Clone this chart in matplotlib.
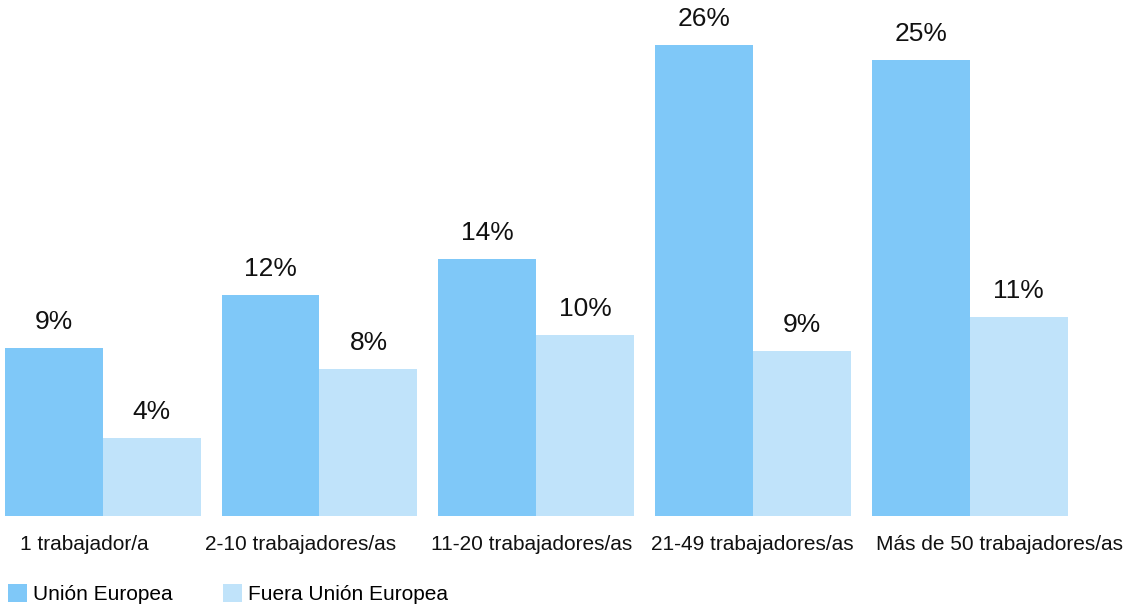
import matplotlib
matplotlib.use("Agg")
import matplotlib.pyplot as plt
import matplotlib.transforms as mtransforms
import numpy as np

plt.rcParams['font.family'] = ['Liberation Sans', 'DejaVu Sans']

# datos
categorias = ['1 trabajador/a', '2-10 trabajadores/as', '11-20 trabajadores/as',
              '21-49 trabajadores/as', 'Más de 50 trabajadores/as']
union_europea = [9.3, 12.2, 14.2, 26.0, 25.2]
fuera_ue = [4.3, 8.1, 10.0, 9.1, 11.0]
etiquetas_ue = ['9%', '12%', '14%', '26%', '25%']
etiquetas_fuera = ['4%', '8%', '10%', '9%', '11%']

color_ue = '#7fc8f8'
color_fuera = '#c0e3fa'

W, H = 1127, 608
fig = plt.figure(figsize=(W / 100, H / 100), dpi=100)
ax = fig.add_axes([0, 92 / H, 1, 516 / H])

x = np.arange(len(categorias))
ancho = 0.452
b1 = ax.bar(x - ancho / 2, union_europea, ancho, color=color_ue, label='Unión Europea')
b2 = ax.bar(x + ancho / 2, fuera_ue, ancho, color=color_fuera, label='Fuera Unión Europea')

for barras, etiquetas in [(b1, etiquetas_ue), (b2, etiquetas_fuera)]:
    for rect, txt in zip(barras, etiquetas):
        ax.annotate(txt, (rect.get_x() + rect.get_width() / 2, rect.get_height()),
                    xytext=(0, 10), textcoords='offset points',
                    ha='center', va='bottom', fontsize=19, color='#111111')

ax.set_xlim(-0.4744, 4.7264)
ax.set_ylim(0, 28.5)
ax.set_xticks(x)
ax.set_xticklabels(categorias, fontsize=15, color='#111111')
ax.tick_params(axis='x', length=0, pad=14)
ax.set_yticks([])
for s in ax.spines.values():
    s.set_visible(False)

# desplazar etiquetas para que no se solapen (como en el original)
desplaz = [-18, -19, -5, -1, 30]
for lab, dx in zip(ax.get_xticklabels(), desplaz):
    lab.set_transform(lab.get_transform() +
                      mtransforms.ScaledTranslation(dx / 100, 0, fig.dpi_scale_trans))

fig.legend(handles=[b1, b2], loc='lower left', bbox_to_anchor=(8 / W, 4 / H),
           ncol=2, frameon=False, fontsize=15, handlelength=0.91, handleheight=0.91,
           handletextpad=0.3, columnspacing=2.4, borderpad=0, borderaxespad=0)

fig.savefig('out.png', dpi=100)
